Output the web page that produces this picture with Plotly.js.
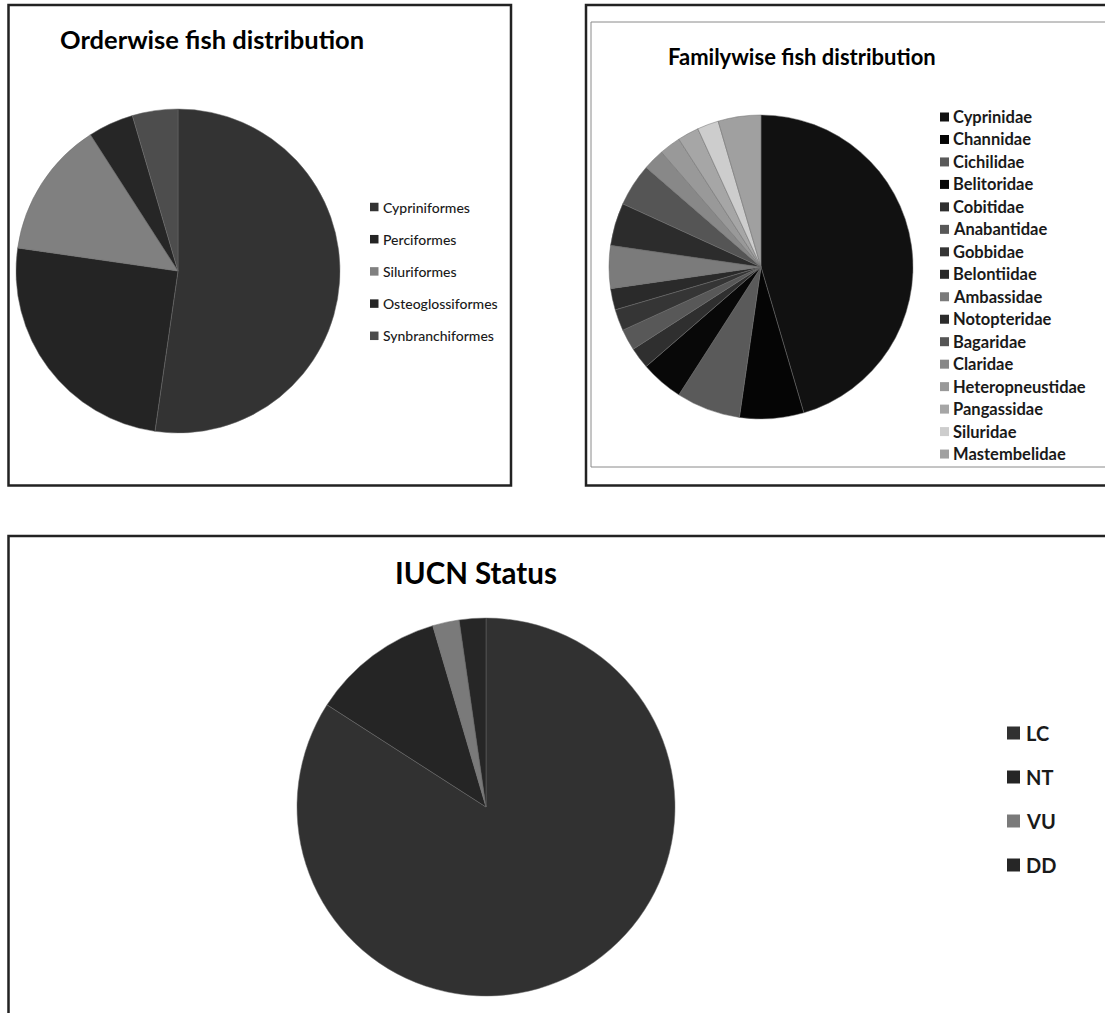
<!DOCTYPE html>
<html>
<head>
<meta charset="utf-8">
<script src="https://cdn.plot.ly/plotly-3.0.1.min.js"></script>
<style>html,body{margin:0;padding:0;background:#fff;}#chart{width:1105px;height:1013px;}
svg text{font-variant-ligatures:none;}</style>
</head>
<body>
<div id="chart"></div>
<script>
// ---- Data ----
const orderLabels = ["Cypriniformes", "Perciformes", "Siluriformes", "Osteoglossiformes", "Synbranchiformes"];
const orderCounts = [23, 11, 6, 2, 2];
const orderColors = ["#333333", "#242424", "#808080", "#262626", "#4d4d4d"];

const famLabels = ["Cyprinidae", "Channidae", "Cichilidae", "Belitoridae", "Cobitidae", "Anabantidae",
  "Gobbidae", "Belontiidae", "Ambassidae", "Notopteridae", "Bagaridae", "Claridae",
  "Heteropneustidae", "Pangassidae", "Siluridae", "Mastembelidae"];
const famCounts = [20, 3, 3, 2, 1, 1, 1, 1, 2, 2, 2, 1, 1, 1, 1, 2];
const famColors = ["#111111", "#050505", "#5a5a5a", "#080808", "#2f2f2f", "#585858",
  "#353535", "#2a2a2a", "#7b7b7b", "#2c2c2c", "#555555", "#888888",
  "#999999", "#a6a6a6", "#cdcdcd", "#a0a0a0"];

const iucnLabels = ["LC", "NT", "VU", "DD"];
const iucnCounts = [37, 5, 1, 1];
const iucnColors = ["#313131", "#252525", "#7a7a7a", "#262626"];

const titles = ["Orderwise fish distribution", "Familywise fish distribution", "IUCN Status"];

// ---- Layout helpers (pixel -> paper) ----
const W = 1105, H = 1013;
const px = v => v / W;
const py = v => 1 - v / H;
const FONT = "Lato, 'Open Sans', sans-serif";

function pieTrace(labels, values, colors, cx, cy, r) {
  return {
    type: "pie", labels: labels, values: values, sort: false, direction: "clockwise",
    rotation: 0, textinfo: "none", hoverinfo: "label+value+percent", showlegend: false,
    automargin: false,
    marker: {colors: colors, line: {color: "#6a6a6a", width: 0.5}},
    domain: {x: [px(cx - r), px(cx + r)], y: [py(cy + r), py(cy - r)]}
  };
}

const data = [
  pieTrace(orderLabels, orderCounts, orderColors, 178, 271, 162),
  pieTrace(famLabels, famCounts, famColors, 761, 267, 152),
  pieTrace(iucnLabels, iucnCounts, iucnColors, 486, 807, 189)
];

const shapes = [];
const annotations = [];

// chart frames
function box(x0, y0, x1, y1, color, width) {
  shapes.push({type: "rect", xref: "paper", yref: "paper", x0: px(x0), x1: px(x1), y0: py(y1), y1: py(y0),
    line: {color: color, width: width}, fillcolor: "rgba(0,0,0,0)", layer: "below"});
}
box(8.5, 5, 511, 485.5, "#222222", 2.5);
box(586, 5, 1120, 485.5, "#222222", 2.5);
box(591, 22, 1120, 467, "#8a8a8a", 1);
box(8.5, 536, 1120, 1030, "#222222", 2.5);

// titles
function title(text, x, y, size) {
  annotations.push({text: text, xref: "paper", yref: "paper", x: px(x), y: py(y), xanchor: "center", yanchor: "middle",
    showarrow: false, font: {family: FONT, size: size, color: "#000000", weight: "bold"}});
}
title(titles[0], 212, 39, 25.5);
title(titles[1], 802, 56, 22);
title(titles[2], 476, 572, 29.5);

// legends
function legend(labels, colors, sqX, sqSize, textX, y0, dy, fsize, weight) {
  labels.forEach((lab, i) => {
    const yc = y0 + i * dy;
    shapes.push({type: "rect", xref: "paper", yref: "paper",
      x0: px(sqX), x1: px(sqX + sqSize), y0: py(yc + sqSize / 2), y1: py(yc - sqSize / 2),
      line: {width: 0}, fillcolor: colors[i]});
    annotations.push({text: lab, xref: "paper", yref: "paper", x: px(textX), y: py(yc),
      xanchor: "left", yanchor: "middle", showarrow: false,
      font: {family: FONT, size: fsize, color: "#1a1a1a", weight: weight}});
  });
}
legend(orderLabels, orderColors, 370, 8.5, 381, 207, 32.2, 14, "500");
legend(famLabels, famColors, 940, 9, 951, 117, 22.47, 16.5, "bold");
legend(iucnLabels, iucnColors, 1007, 13, 1024, 733, 44, 20, "bold");

const layout = {
  width: W, height: H,
  margin: {l: 0, r: 0, t: 0, b: 0, pad: 0},
  paper_bgcolor: "#ffffff",
  showlegend: false,
  shapes: shapes,
  annotations: annotations
};

Plotly.newPlot("chart", data, layout, {displayModeBar: false, staticPlot: true});
</script>
</body>
</html>
